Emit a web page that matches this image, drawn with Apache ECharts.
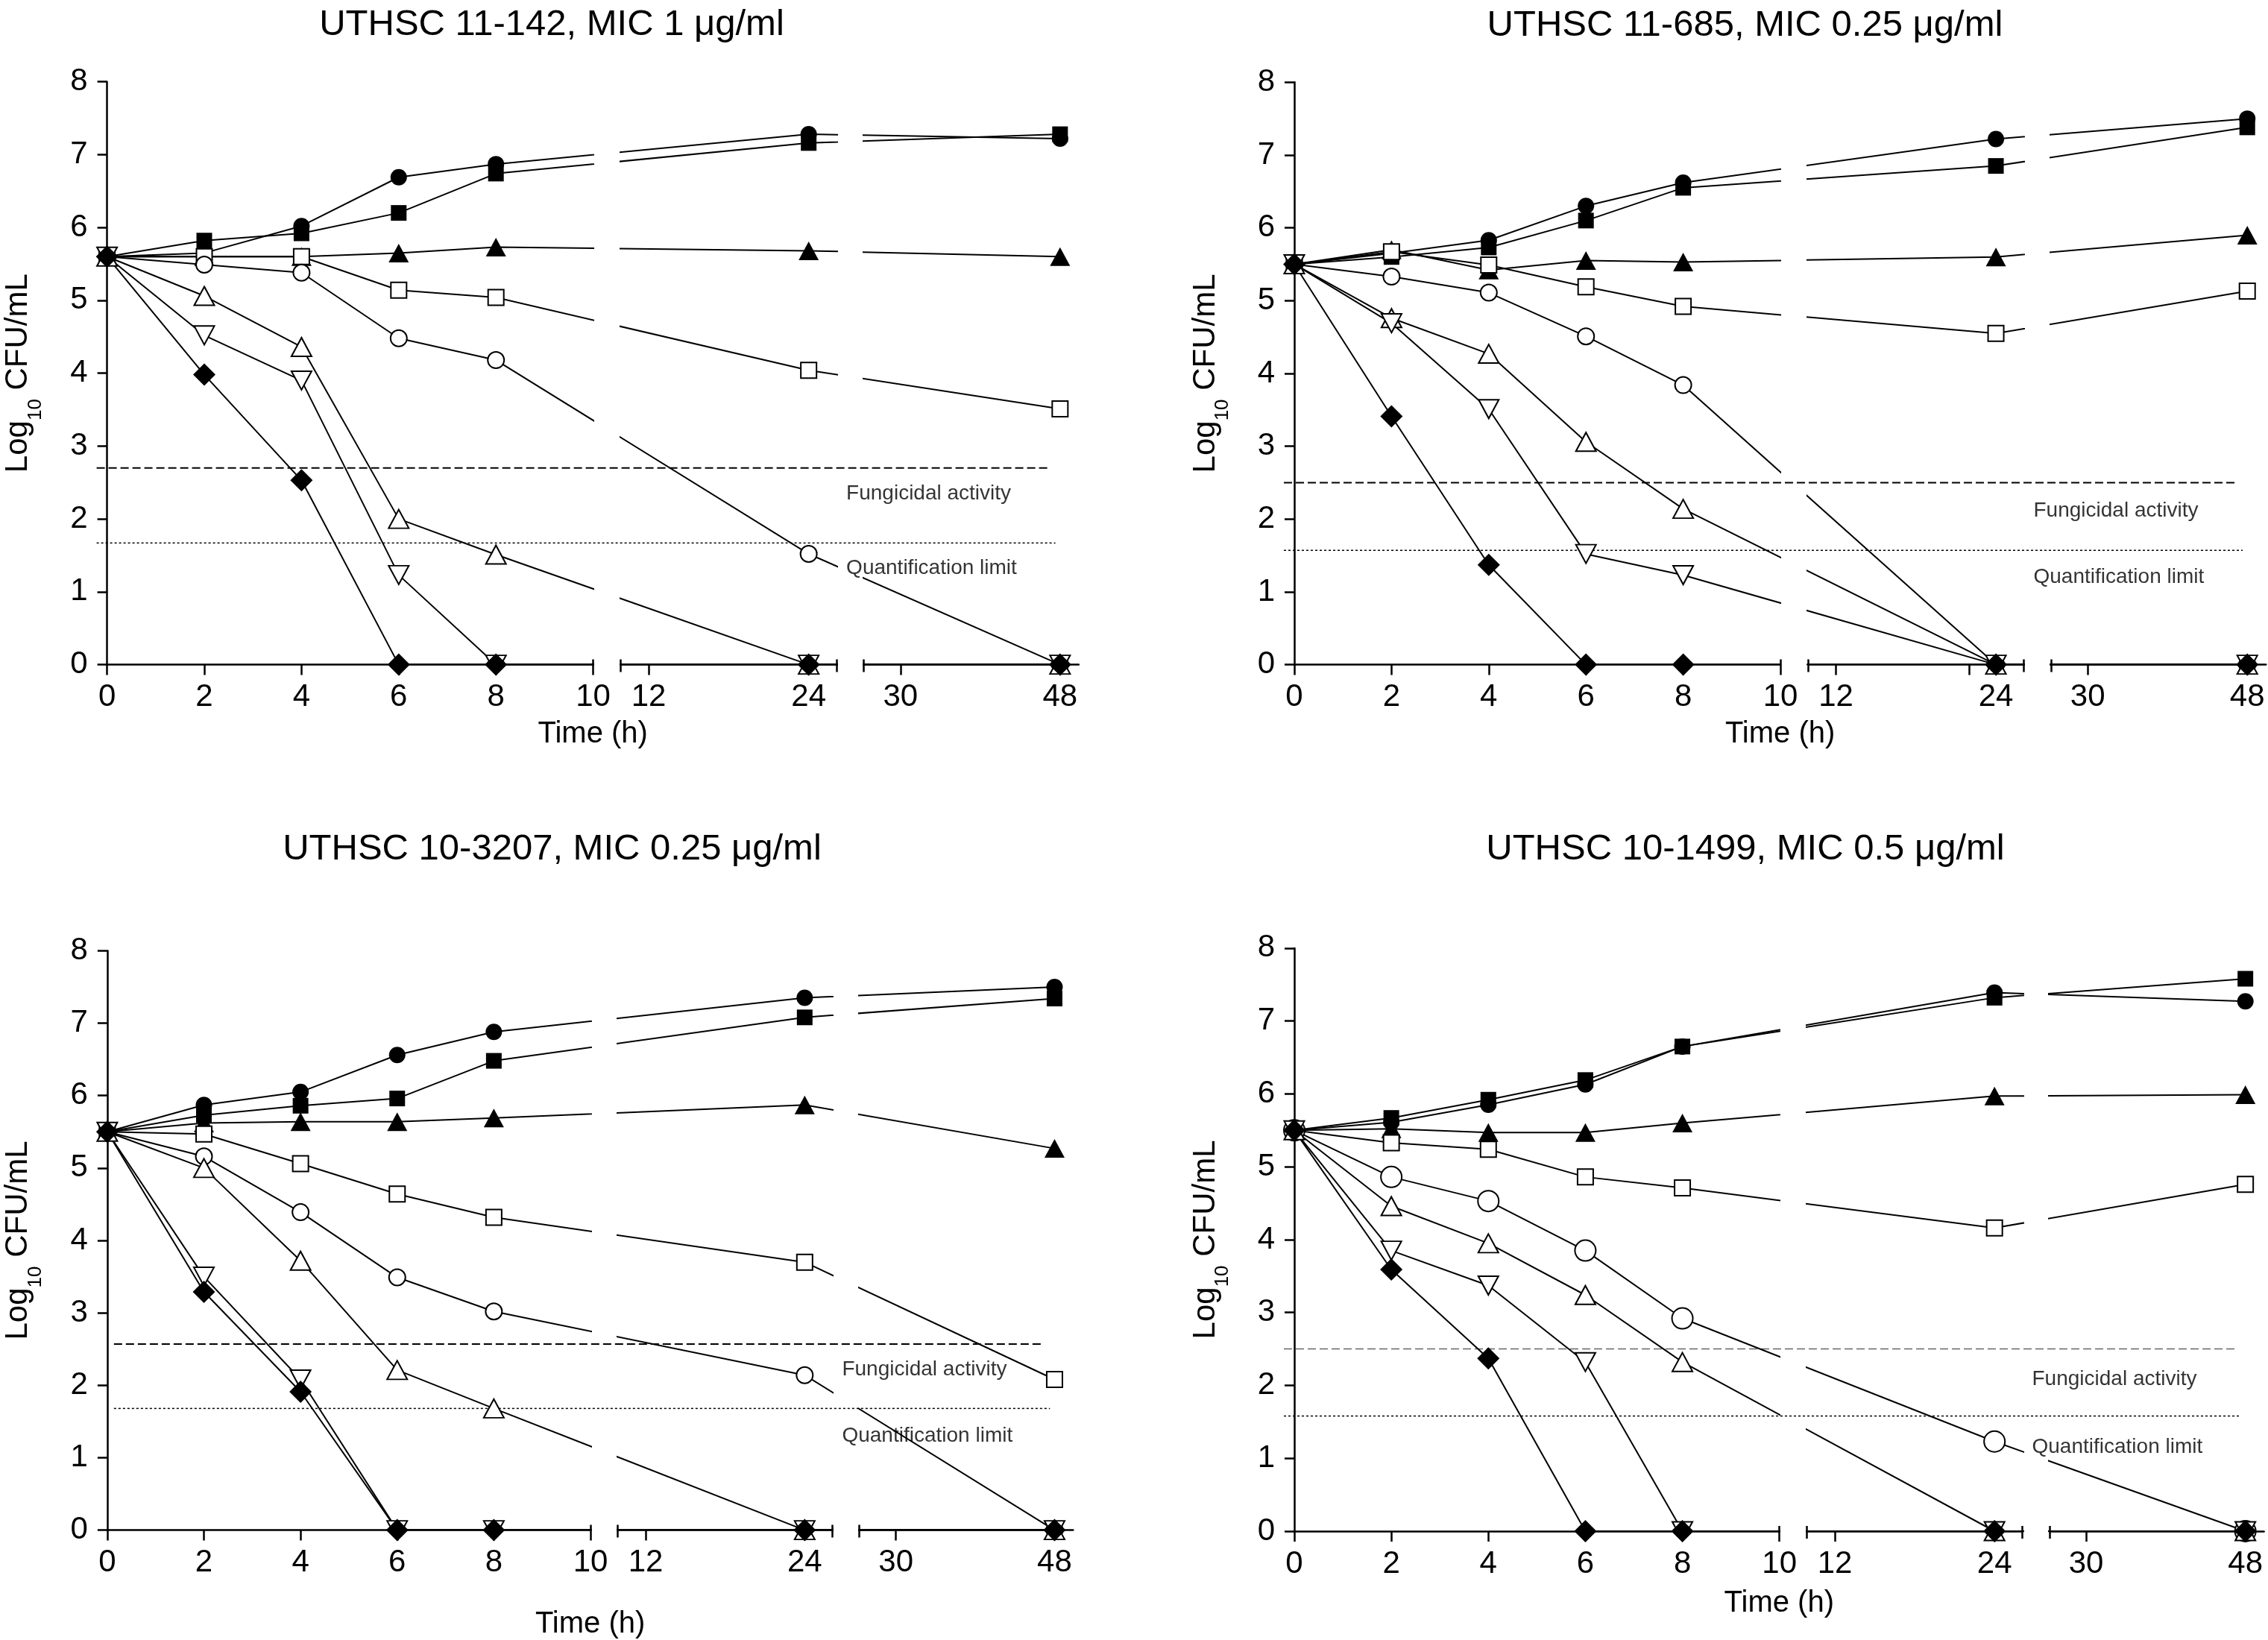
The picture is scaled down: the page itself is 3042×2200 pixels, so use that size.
<!DOCTYPE html>
<html>
<head>
<meta charset="utf-8">
<script src="https://cdn.jsdelivr.net/npm/echarts@6/dist/echarts.min.js"></script>
<style>html,body{margin:0;padding:0;background:#fff}#c{width:3042px;height:2200px}</style>
</head>
<body>
<div id="c"></div>
<script>
// ---------------- DATA ----------------
const times = [0, 2, 4, 6, 8, 24, 48];
const panelTitles = [
  'UTHSC 11-142, MIC 1 \u03bcg/ml',
  'UTHSC 11-685, MIC 0.25 \u03bcg/ml',
  'UTHSC 10-3207, MIC 0.25 \u03bcg/ml',
  'UTHSC 10-1499, MIC 0.5 \u03bcg/ml'
];
// series order: filled circle, filled square, filled triangle, open square,
// open circle, open triangle, open inverted triangle, filled diamond
const panel1Values = [
  [5.6, 5.65, 6.02, 6.69, 6.87, 7.28, 7.22],
  [5.6, 5.82, 5.92, 6.20, 6.74, 7.16, 7.28],
  [5.6, 5.60, 5.60, 5.65, 5.73, 5.68, 5.60],
  [5.6, 5.60, 5.60, 5.14, 5.04, 4.04, 3.51],
  [5.6, 5.49, 5.38, 4.48, 4.18, 1.52, 0],
  [5.6, 5.06, 4.36, 2.00, 1.51, 0, 0],
  [5.6, 4.52, 3.90, 1.23, 0, 0, 0],
  [5.6, 3.98, 2.53, 0, 0, 0, 0]
];
const panel2Values = [
  [5.5, 5.65, 5.83, 6.30, 6.62, 7.22, 7.50],
  [5.5, 5.60, 5.73, 6.10, 6.55, 6.85, 7.38],
  [5.5, 5.70, 5.42, 5.55, 5.53, 5.60, 5.90],
  [5.5, 5.67, 5.49, 5.19, 4.92, 4.55, 5.13],
  [5.5, 5.33, 5.11, 4.51, 3.84, 0, 0],
  [5.5, 4.76, 4.27, 3.06, 2.14, 0, 0],
  [5.5, 4.69, 3.51, 1.52, 1.23, 0, 0],
  [5.5, 3.41, 1.37, 0, 0, 0, 0]
];
const panel3Values = [
  [5.5, 5.87, 6.05, 6.56, 6.88, 7.35, 7.50],
  [5.5, 5.73, 5.86, 5.96, 6.48, 7.08, 7.34],
  [5.5, 5.62, 5.64, 5.64, 5.69, 5.87, 5.27],
  [5.5, 5.47, 5.06, 4.64, 4.32, 3.70, 2.08],
  [5.5, 5.16, 4.39, 3.49, 3.02, 2.14, 0],
  [5.5, 5.00, 3.72, 2.21, 1.68, 0, 0],
  [5.5, 3.50, 2.08, 0, 0, 0, 0],
  [5.5, 3.29, 1.91, 0, 0, 0, 0]
];
const panel4Values = [
  [5.5, 5.61, 5.85, 6.13, 6.65, 7.39, 7.27],
  [5.5, 5.67, 5.92, 6.19, 6.65, 7.32, 7.58],
  [5.5, 5.52, 5.47, 5.47, 5.60, 5.97, 5.99],
  [5.5, 5.33, 5.24, 4.86, 4.71, 4.16, 4.76],
  [5.5, 4.86, 4.53, 3.85, 2.92, 1.23, 0],
  [5.5, 4.46, 3.95, 3.24, 2.32, 0, 0],
  [5.5, 3.85, 3.37, 2.32, 0, 0, 0],
  [5.5, 3.59, 2.37, 0, 0, 0, 0]
];
const fungicidalLevel = [2.70, 2.50, 2.57, 2.50];
const quantLimit = [1.67, 1.57, 1.68, 1.58];
const yTicks = [0, 1, 2, 3, 4, 5, 6, 7, 8];
const segLabels = [[0, 2, 4, 6, 8, 10], [12, 24], [30, 48]];
const extraTicks = [[], [22], [], []];
const refTexts = ['Fungicidal activity', 'Quantification limit'];

const allValues = [panel1Values, panel2Values, panel3Values, panel4Values];

// ---------------- LAYOUT ----------------
const FONT = '"Liberation Sans", Arial, Helvetica, sans-serif';
// broken time axis: three segments with their own pixel-per-hour scale
const SEGS = [
  {tMin: 0,     tMax: 10,   tRef: 0,  pRef: 0,      ppH: 65.2},
  {tMin: 9.9,   tMax: 26.1, tRef: 12, pRef: 726.5,  ppH: 17.88},
  {tMin: 25.85, tMax: 50.1, tRef: 30, pRef: 1064.2, ppH: 11.89}
];
function segP(s, t) { return s.pRef + (t - s.tRef) * s.ppH; }
function toP(t) {
  for (const s of SEGS) if (t >= s.tMin && t <= s.tMax) return segP(s, t);
  return null;
}
SEGS.forEach(s => { s.pMin = segP(s, s.tMin); s.pMax = segP(s, s.tMax); });
const FULL_MIN = -14, FULL_MAX = SEGS[2].pMax + 14;

const PANELS = [
  {x0: 143.6, yTop: 109.7, yBot: 891.6, k: 1.000, titleX: 740,   titleTop: 9,    timeGap: 73,  refStart: -14, lblDy: [35, 34], dashColor: '#000', dashW: 2},
  {x0: 1736,  yTop: 110.3, yBot: 891.6, k: 1.000, titleX: 2340.5, titleTop: 10,  timeGap: 73,  refStart: -14, lblDy: [38, 37], dashColor: '#000', dashW: 2},
  {x0: 143.9, yTop: 1275.4, yBot: 2052.6, k: 0.994, titleX: 740.5, titleTop: 1115, timeGap: 106, refStart: 9, lblDy: [35, 37], dashColor: '#000', dashW: 2},
  {x0: 1736,  yTop: 1271.9, yBot: 2054, k: 0.998, titleX: 2341,  titleTop: 1115, timeGap: 77,  refStart: -14, lblDy: [41, 42], dashColor: '#666', dashW: 1.5}
];
const DASH_END = 1264, DOT_END = 1272, TEXT_P = 992;

const MARKERS = [
  {symbol: 'circle',   size: 22,       fill: true},
  {symbol: 'rect',     size: 21,       fill: true},
  {symbol: 'triangle', size: [27, 25], fill: true},
  {symbol: 'rect',     size: 21,       fill: false},
  {symbol: 'circle',   size: 22,       fill: false},
  {symbol: 'triangle', size: [27, 25], fill: false},
  {symbol: 'triangle', size: [27, 25], fill: false, rotate: 180},
  {symbol: 'diamond',  size: 30,       fill: true}
];

const grids = [], xAxes = [], yAxes = [], series = [], titles = [];
const axisLineStyle = {color: '#000', width: 2.5};

PANELS.forEach((P, pi) => {
  const vals = allValues[pi];
  const gBase = grids.length;
  const xBase = xAxes.length;
  const yBase = yAxes.length;
  const h = P.yBot - P.yTop;

  SEGS.forEach((s, si) => {
    grids.push({left: P.x0 + P.k * s.pMin, top: P.yTop, width: P.k * (s.pMax - s.pMin), height: h,
      containLabel: false, outerBoundsMode: 'none', show: false});
    const labelTs = segLabels[si];
    let tickTs = labelTs.slice();
    if (si === 1) tickTs = tickTs.concat(extraTicks[pi]);
    const labelMap = {};
    labelTs.forEach(t => { labelMap[segP(s, t).toFixed(3)] = String(t); });
    const edges = si === 0 ? [s.pMax] : (si === 1 ? [s.pMin, s.pMax] : [s.pMin]);
    // main axis
    xAxes.push({
      gridIndex: gBase + si, type: 'value', position: 'bottom', min: s.pMin, max: s.pMax,
      axisLine: {show: true, onZero: false, lineStyle: axisLineStyle},
      axisTick: {show: true, length: 14, customValues: tickTs.map(t => segP(s, t)), lineStyle: axisLineStyle},
      axisLabel: {show: true, customValues: labelTs.map(t => segP(s, t)), margin: 23, fontSize: 42,
        fontFamily: FONT, color: '#000', formatter: v => labelMap[Number(v).toFixed(3)] || ''},
      splitLine: {show: false}
    });
    // break marks
    xAxes.push({
      gridIndex: gBase + si, type: 'value', position: 'bottom', offset: 10, min: s.pMin, max: s.pMax,
      axisLine: {show: false, onZero: false},
      axisTick: {show: true, inside: true, length: 17, customValues: edges, lineStyle: axisLineStyle},
      axisLabel: {show: false}, splitLine: {show: false}
    });
    if (si === 0) {
      yAxes.push({
        gridIndex: gBase, type: 'value', min: 0, max: 8, interval: 1,
        axisLine: {show: true, onZero: false, lineStyle: axisLineStyle},
        axisTick: {show: true, length: 13, lineStyle: axisLineStyle},
        axisLabel: {show: true, margin: 26, fontSize: 42, fontFamily: FONT, color: '#000',
          customValues: yTicks},
        splitLine: {show: false},
        name: '{a|Log}{b|10}{a| CFU/mL}', nameLocation: 'middle', nameRotate: 90, nameGap: 83,
        nameMoveOverlap: false,
        nameTextStyle: {fontSize: 42, fontFamily: FONT, color: '#000', rich: {
          a: {fontSize: 42, lineHeight: 72, fontFamily: FONT, color: '#000'},
          b: {fontSize: 26, lineHeight: 26, verticalAlign: 'bottom', fontFamily: FONT, color: '#000'}
        }}
      });
    } else {
      yAxes.push({gridIndex: gBase + si, type: 'value', min: 0, max: 8, show: false});
    }
    // data series in this segment
    vals.forEach((row, ri) => {
      const m = MARKERS[ri];
      let size = m.size;
      if (pi === 3 && ri === 4) size = 28;
      series.push({
        type: 'line', xAxisIndex: xBase + si * 2, yAxisIndex: yBase + si, clip: true,
        data: times.map((t, ti) => [toP(t), row[ti]]),
        symbol: m.symbol, symbolSize: size, symbolRotate: m.rotate || 0, showSymbol: true,
        lineStyle: {color: '#000', width: 2},
        itemStyle: {color: m.fill ? '#000' : '#fff', borderColor: '#000', borderWidth: m.fill ? 0 : 2},
        silent: true, z: 3
      });
    });
  });

  // full-width grid for reference lines, their text and axis title
  const fullG = gBase + 3;
  grids.push({left: P.x0 + P.k * FULL_MIN, top: P.yTop, width: P.k * (FULL_MAX - FULL_MIN), height: h,
    containLabel: false, outerBoundsMode: 'none', show: false});
  xAxes.push({
    gridIndex: fullG, type: 'value', min: FULL_MIN, max: FULL_MAX, position: 'bottom',
    axisLine: {show: false, onZero: false}, axisTick: {show: false}, axisLabel: {show: false}, splitLine: {show: false},
    name: 'Time (h)', nameLocation: 'middle', nameGap: P.timeGap, nameMoveOverlap: false,
    nameTextStyle: {fontSize: 40, fontFamily: FONT, color: '#000'}
  });
  yAxes.push({gridIndex: fullG, type: 'value', min: 0, max: 8, show: false});
  const fx = xBase + 6, fy = yBase + 3;
  series.push({
    type: 'line', xAxisIndex: fx, yAxisIndex: fy, symbol: 'none', silent: true, z: 2,
    data: [[P.refStart, fungicidalLevel[pi]], [DASH_END, fungicidalLevel[pi]]],
    lineStyle: {color: P.dashColor, width: P.dashW, type: [11, 5]}
  });
  series.push({
    type: 'line', xAxisIndex: fx, yAxisIndex: fy, symbol: 'none', silent: true, z: 2,
    data: [[P.refStart, quantLimit[pi]], [DOT_END, quantLimit[pi]]],
    lineStyle: {color: '#000', width: 1.5, type: [3, 3]}
  });
  series.push({
    type: 'scatter', xAxisIndex: fx, yAxisIndex: fy, symbolSize: 1, silent: true, z: 4,
    itemStyle: {color: 'rgba(0,0,0,0)'},
    data: [
      {value: [TEXT_P, fungicidalLevel[pi]], label: {formatter: refTexts[0], position: [0, P.lblDy[0]]}},
      {value: [TEXT_P, quantLimit[pi]], label: {formatter: refTexts[1], position: [0, P.lblDy[1]]}}
    ],
    label: {show: true, align: 'left', verticalAlign: 'middle', fontSize: 28, fontFamily: FONT, color: '#000'}
  });

  titles.push({text: panelTitles[pi], left: P.titleX, top: P.titleTop, textAlign: 'center', padding: 0,
    textStyle: {fontSize: 49, fontWeight: 'normal', fontFamily: FONT, color: '#000'}});
});

const chart = echarts.init(document.getElementById('c'), null, {renderer: 'canvas', width: 3042, height: 2200});
chart.setOption({
  animation: false,
  backgroundColor: '#fff',
  title: titles,
  grid: grids,
  xAxis: xAxes,
  yAxis: yAxes,
  series: series
});
</script>
</body>
</html>
